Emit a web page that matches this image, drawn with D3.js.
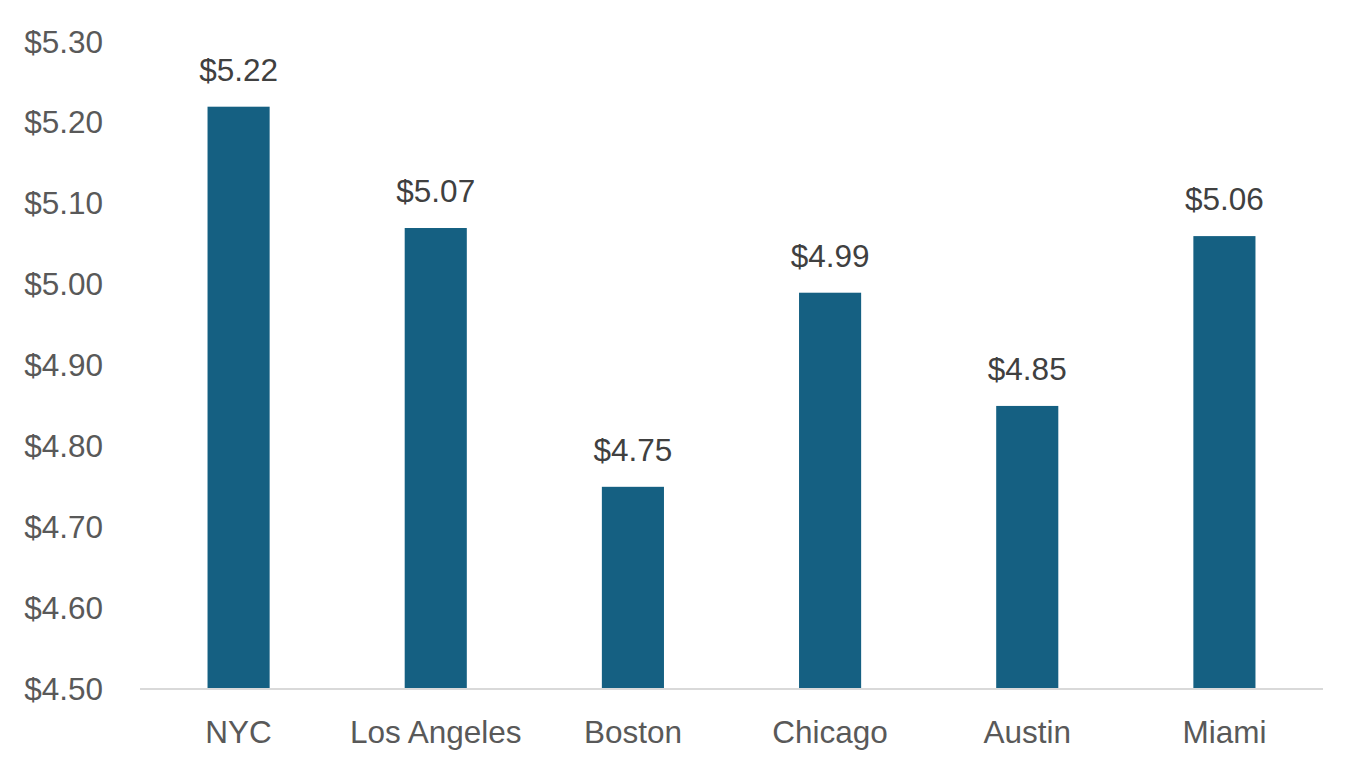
<!DOCTYPE html>
<html>
<head>
<meta charset="utf-8">
<script src="https://cdn.jsdelivr.net/npm/d3@7"></script>
<style>
  html, body { margin: 0; padding: 0; background: #fff; }
  svg { display: block; font-family: "Liberation Sans", Arial, sans-serif; }
</style>
</head>
<body>
<div id="chart"></div>
<script>
const cities = ['NYC', 'Los Angeles', 'Boston', 'Chicago', 'Austin', 'Miami']
const prices = [5.22, 5.07, 4.75, 4.99, 4.85, 5.06]
const yTicks = [4.5, 4.6, 4.7, 4.8, 4.9, 5.0, 5.1, 5.2, 5.3]

const width = 1366, height = 778
const margin = { top: 42, right: 43, bottom: 89, left: 140 }
const font = '"Liberation Sans", Arial, sans-serif'

const svg = d3.select('#chart').append('svg')
    .attr('width', width).attr('height', height)

const x = d3.scaleBand()
    .domain(cities)
    .range([margin.left, width - margin.right])
    .paddingInner(0.685).paddingOuter(0.3425)

const y = d3.scaleLinear()
    .domain([4.5, 5.3])
    .range([height - margin.bottom, margin.top])

const money = d => '$' + d3.format('.2f')(d)

// Y axis labels (no line)
const yAxis = svg.append('g')
    .attr('transform', `translate(${margin.left},0)`)
    .call(d3.axisLeft(y).tickValues(yTicks).tickFormat(money).tickSize(0).tickPadding(37))
yAxis.select('.domain').remove()
yAxis.selectAll('text')
    .attr('fill', '#595959').attr('font-size', '31.5px')
    .attr('font-family', font)

// Bars
svg.selectAll('.bar')
    .data(cities).enter()
    .append('rect')
    .attr('x', d => x(d))
    .attr('width', x.bandwidth())
    .attr('y', (d, i) => y(prices[i]))
    .attr('height', (d, i) => y(4.5) - y(prices[i]))
    .attr('fill', '#156082')

// X axis
const xAxis = svg.append('g')
    .attr('transform', `translate(0,${height - margin.bottom})`)
    .call(d3.axisBottom(x).tickSize(0).tickPadding(32).tickSizeOuter(0))
xAxis.select('.domain').attr('stroke', '#d9d9d9').attr('stroke-width', 2)
    .attr('d', `M${margin.left},0H${width - margin.right}`)
xAxis.selectAll('text')
    .attr('fill', '#595959').attr('font-size', '31.5px')
    .attr('font-family', font)

// Data labels
svg.selectAll('.label')
    .data(cities).enter()
    .append('text')
    .attr('x', d => x(d) + x.bandwidth() / 2)
    .attr('y', (d, i) => y(prices[i]) - 26)
    .attr('text-anchor', 'middle')
    .attr('fill', '#404040')
    .attr('font-size', '31.5px')
    .attr('font-family', font)
    .text((d, i) => money(prices[i]))
</script>
</body>
</html>
